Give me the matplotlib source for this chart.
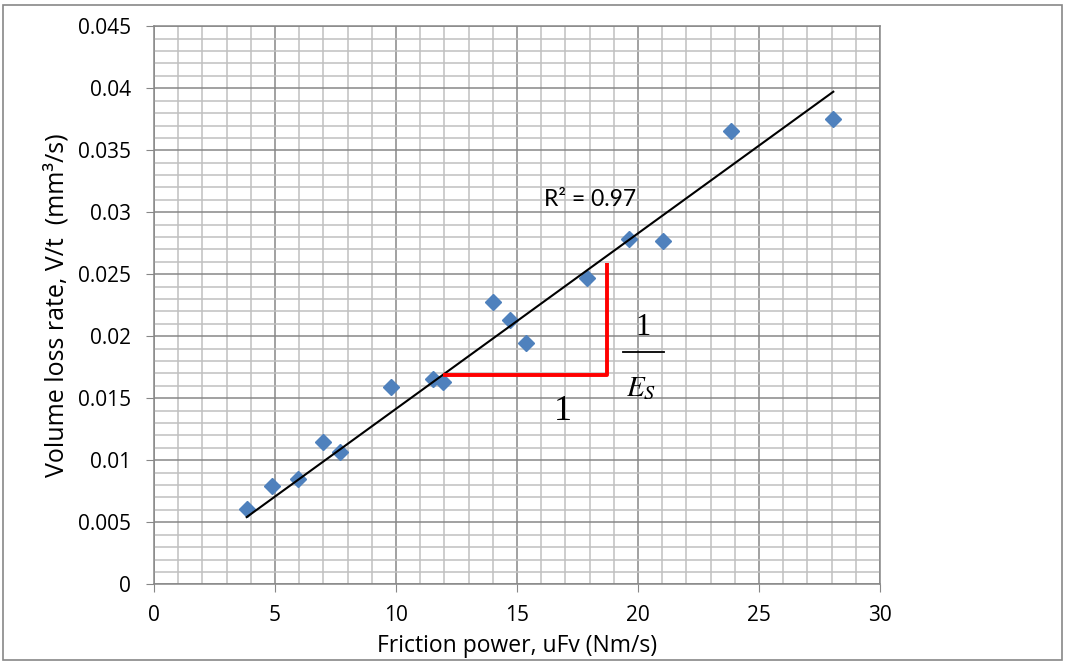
import numpy as np
import matplotlib
matplotlib.use("Agg")
import matplotlib.pyplot as plt
from matplotlib.patches import Rectangle
from matplotlib.ticker import MultipleLocator

# Measured friction power (Nm/s) and volume loss rate (mm^3/s)
friction_power = [3.83, 4.89, 5.95, 7.00, 7.70, 9.79, 11.54, 11.93,
                  14.02, 14.71, 15.37, 17.88, 19.62, 21.05, 23.86, 28.07]
volume_loss = [0.00605, 0.00795, 0.00849, 0.01150, 0.01065, 0.01591, 0.01656, 0.01634,
               0.02279, 0.02131, 0.01948, 0.02468, 0.02785, 0.02771, 0.03658, 0.03755]

x_ticks = [0, 5, 10, 15, 20, 25, 30]
y_ticks = [0, 0.005, 0.01, 0.015, 0.02, 0.025, 0.03, 0.035, 0.04, 0.045]
y_tick_labels = ["0", "0.005", "0.01", "0.015", "0.02", "0.025", "0.03", "0.035", "0.04", "0.045"]

# slope triangle corners (data units)
tri_x = [11.95, 18.73, 18.73]
tri_y = [0.01688, 0.01688, 0.02594]

plt.rcParams['font.family'] = ['Open Sans', 'DejaVu Sans']

fig = plt.figure(figsize=(10.65, 6.68), dpi=100)
ax = fig.add_axes([154 / 1065, 1 - 584.3 / 668, (880 - 154) / 1065, (584.3 - 26.3) / 668])

ax.set_xlim(0, 30)
ax.set_ylim(0, 0.045)
ax.set_xticks(x_ticks)
ax.set_yticks(y_ticks)
ax.set_yticklabels(y_tick_labels)
ax.xaxis.set_minor_locator(MultipleLocator(1))
ax.yaxis.set_minor_locator(MultipleLocator(0.001))
ax.grid(which='major', color='#878787', linewidth=1.1)
ax.grid(which='minor', color='#c0c0c0', linewidth=1.1)
ax.set_axisbelow(True)
ax.tick_params(which='major', direction='out', length=5.8, color='#878787', labelsize=15)
ax.tick_params(axis='x', which='major', pad=9)
ax.tick_params(axis='y', which='major', pad=11)
ax.tick_params(which='minor', length=0)
for s in ax.spines.values():
    s.set_color('#878787')
    s.set_linewidth(1.1)

# data points
ax.plot(friction_power, volume_loss, linestyle='none', marker='D', markersize=8.5,
        color='#4f81bd', zorder=3)

# linear trend line through the origin
fp = np.array(friction_power)
vl = np.array(volume_loss)
slope = np.sum(fp * vl) / np.sum(fp * fp)
xs = np.array([fp.min(), fp.max()])
ax.plot(xs, slope * xs, color='black', linewidth=1.5, zorder=4)

ax.text(16.1, 0.0310, "R² = 0.97", fontsize=16.5, family=['Lato', 'DejaVu Sans'],
        ha='left', va='center')

# slope triangle
ax.plot(tri_x, tri_y, color='#ff0000', linewidth=2.8, solid_capstyle='butt', zorder=4)
ax.text(16.9, 0.0139, "1", fontsize=26, family='Liberation Serif', ha='center', va='center')
ax.text(20.19, 0.0207, "1", fontsize=22, family='Liberation Serif', ha='center', va='center')
ax.plot([19.37, 21.09], [0.01871, 0.01871], color='black', linewidth=1.3)
ax.text(20.13, 0.0158, r"$E_S$", fontsize=21, ha='center', va='center',
        math_fontfamily='stix')

ax.set_xlabel("Friction power, uFv (Nm/s)", fontsize=16.5, labelpad=6)
ax.set_ylabel("Volume loss rate, V/t  (mm³/s)", fontsize=18, labelpad=6)

# chart frame
fig.patches.append(Rectangle((3 / 1065, 1 - 660 / 668), 1059 / 1065, 655 / 668,
                             transform=fig.transFigure, fill=False,
                             edgecolor='#878787', linewidth=1.2))

fig.savefig("out.png", dpi=100)
